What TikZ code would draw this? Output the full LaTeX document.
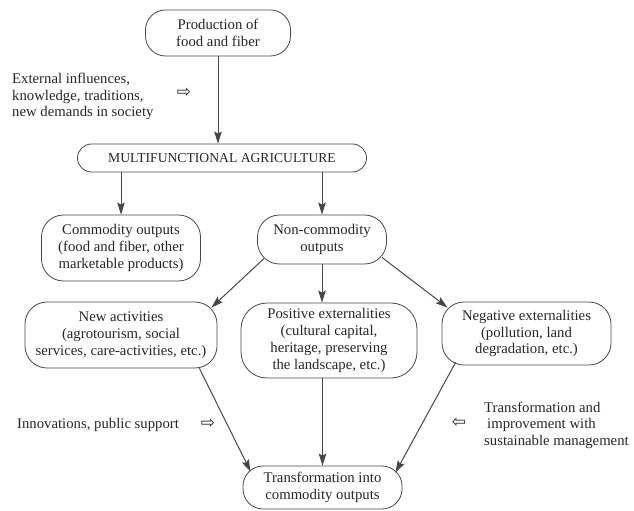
\documentclass[tikz,border=0pt]{standalone}
\usepackage{fontspec}
\setmainfont{Liberation Serif}
\newfontfamily\symfont{DejaVu Sans}
\usetikzlibrary{arrows.meta,calc}
\definecolor{ink}{rgb}{0.15,0.15,0.15}
\definecolor{edgec}{rgb}{0.28,0.28,0.28}
\begin{document}
\begin{tikzpicture}[x=1bp,y=-1bp,
  box/.style={draw=edgec, line width=0.8bp, rounded corners=22bp, align=center, inner sep=0pt, text=ink, font=\fontsize{14.8}{17}\selectfont},
  arr/.style={draw=edgec, line width=1bp, -{Stealth[length=12bp,width=7.5bp,inset=2bp]}},
  lbl/.style={inner sep=0pt, text=ink, align=left, font=\fontsize{14.8}{16.6}\selectfont},
  hollow/.style={inner sep=0pt, text=ink, font=\symfont\fontsize{17}{17}\selectfont}]
\useasboundingbox (0,0) rectangle (634,511);
% boxes
\node[box, minimum width=145bp, minimum height=46bp, rounded corners=20bp] (prod) at (218,33) {Production of\\food and fiber};
\node[box, minimum width=289bp, minimum height=28bp, rounded corners=14bp, font=\fontsize{13.7}{15}\selectfont] (ma) at (222,158) {MULTIFUNCTIONAL AGRICULTURE};
\node[box, minimum width=159bp, minimum height=66bp] (com) at (121,248) {Commodity outputs\\(food and fiber, other\\marketable products)};
\node[box, minimum width=129bp, minimum height=49bp] (noncom) at (322,239.5) {Non-commodity\\outputs};
\node[box, minimum width=192bp, minimum height=66bp] (newact) at (121,335) {New activities\\(agrotourism, social\\services, care-activities, etc.)};
\node[box, minimum width=176bp, minimum height=75bp, rounded corners=26bp] (pos) at (329,340.5) {Positive externalities\\(cultural capital,\\heritage, preserving\\the landscape, etc.)};
\node[box, minimum width=169bp, minimum height=63bp] (neg) at (526.5,333.5) {Negative externalities\\(pollution, land\\degradation, etc.)};
\node[box, minimum width=159bp, minimum height=43bp, rounded corners=20bp] (trans) at (322.5,487.5) {Transformation into\\commodity outputs};
% free labels
\node[lbl, anchor=west] (ext) at (12,96.5) {External influences,\\knowledge, traditions,\\new demands in society};
\node[hollow] (h1) at (184,93) {⇨};
\node[lbl, anchor=west] (innov) at (17,425) {Innovations, public support};
\node[hollow] (h2) at (208,424) {⇨};
\node[lbl, anchor=west] (sust) at (484,425) {Transformation and\\\hspace{3bp}improvement with\\sustainable management};
\node[hollow] (h3) at (459,423) {⇦};
% connectors
\draw[arr] (prod.south) -- (prod.south |- ma.north);
\draw[arr] (ma.south -| com.north) -- (com.north);
\draw[arr] (ma.south -| noncom.north) -- (noncom.north);
\draw[arr] ([shift={(7,-6)}]noncom.south west) -- ([shift={(-6,6)}]newact.north east);
\draw[arr] (noncom.south) -- (noncom.south |- pos.north);
\draw[arr] ([shift={(-5,-7)}]noncom.south east) -- ([shift={(6,6)}]neg.north west);
\draw[arr] ([shift={(-18,0)}]newact.south east) -- ([shift={(8,6)}]trans.north west);
\draw[arr] (pos.south -| trans.north) -- (trans.north);
\draw[arr] ([shift={(14,-3)}]neg.south west) -- ([shift={(-7,7)}]trans.north east);
\end{tikzpicture}
\end{document}
